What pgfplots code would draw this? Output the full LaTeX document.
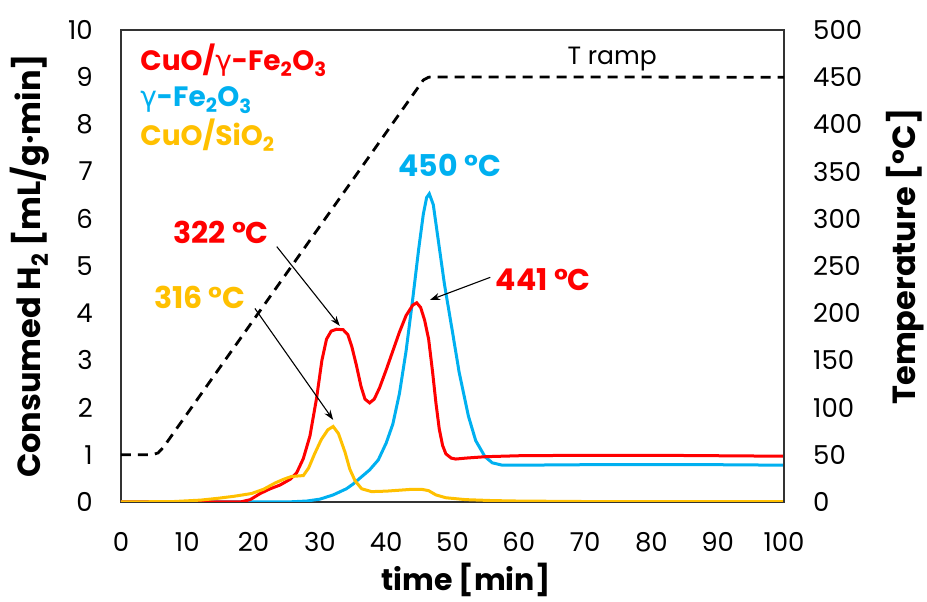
\documentclass[border=0pt]{standalone}
\usepackage{fontspec}
\setmainfont{Poppins}
\newfontfamily\gfont{DejaVu Sans}
\usepackage{pgfplots}
\pgfplotsset{compat=1.18}
\usetikzlibrary{arrows.meta}
\definecolor{cred}{RGB}{255,0,0}
\definecolor{cblue}{RGB}{0,176,240}
\definecolor{corange}{RGB}{255,192,0}
\newcommand{\g}{{\gfont\mdseries γ}}
\begin{document}
\begin{tikzpicture}
\pgfplotsset{
 base/.style={scale only axis, width=663pt, height=472pt, xmin=0, xmax=100,
   tick style={draw=none}, axis line style={line width=1.3pt, draw=black!80},
   /pgf/number format/assume math mode=true,
   tick label style={font=\fontsize{26}{30}\selectfont},
   label style={font=\fontsize{32}{36}\selectfont\bfseries},
 }
}
\begin{axis}[base, ymin=0, ymax=10, ytick={0,1,...,10}, xtick={0,10,...,100},
  yticklabel style={anchor=east, inner sep=0pt, xshift=-28pt},
  xticklabel style={anchor=north, inner sep=0pt, yshift=-30pt},
  xlabel={time [min]}, ylabel={Consumed H\textsubscript{2} [mL/g·min]},
  xlabel style={at={(axis description cs:0.52,-0.188)}, anchor=base, font=\fontsize{30}{34}\selectfont\bfseries},
  ylabel style={at={(axis description cs:-0.1373,0.5)}, anchor=center},
]
\addplot[cblue, line width=3pt] coordinates {
(0,0) (25,0) (28,0.02) (30,0.06) (32,0.15) (34,0.28) (35,0.38) (36,0.5) (37.5,0.68) (38.8,0.89) (40,1.25) (41,1.65) (42,2.3) (43,3.2) (44,4.3) (44.9,5.36) (45.6,6.1) (46.1,6.45) (46.5,6.53) (47.1,6.3) (47.9,5.5) (48.8,4.6) (50,3.6) (51,2.75) (52.4,1.82) (53.5,1.3) (54.9,0.96) (56,0.83) (57.5,0.78) (60,0.78) (70,0.79) (80,0.79) (90,0.79) (100,0.78)};
\addplot[cred, line width=3pt] coordinates {
(0,0) (18,0) (19.5,0.05) (21,0.18) (22.5,0.28) (24,0.36) (25.5,0.48) (26.5,0.62) (27.5,0.92) (28.5,1.4) (29.5,2.2) (30.3,3.0) (31,3.45) (31.7,3.62) (32.5,3.66) (33.5,3.65) (34.2,3.55) (34.8,3.3) (35.5,2.9) (36.2,2.45) (36.8,2.18) (37.5,2.1) (38.2,2.18) (39,2.42) (40,2.8) (41,3.2) (42,3.6) (43,3.95) (44,4.17) (44.6,4.22) (45.2,4.12) (45.8,3.85) (46.4,3.45) (47,2.75) (47.5,2.1) (48,1.55) (48.5,1.2) (49,1.02) (49.8,0.93) (50.5,0.91) (52,0.93) (55,0.96) (60,0.98) (70,0.99) (80,0.99) (90,0.98) (100,0.97)};
\addplot[corange, line width=3pt] coordinates {
(0,0) (8,0.01) (12,0.04) (14.7,0.08) (17,0.12) (19.7,0.18) (21.5,0.27) (23.2,0.4) (24.5,0.48) (25.7,0.54) (27.5,0.56) (28.3,0.72) (29.2,1.02) (30.2,1.32) (31.2,1.53) (32,1.6) (32.8,1.45) (33.8,1.05) (34.5,0.7) (35.3,0.45) (36.3,0.28) (37.8,0.22) (40,0.23) (42,0.25) (44,0.27) (45.3,0.27) (46.4,0.24) (47.5,0.15) (49,0.09) (52,0.05) (56,0.03) (60,0.02) (70,0.01) (100,0.01)};
\node[anchor=base west, font=\fontsize{28}{32}\selectfont\bfseries, text=cred, inner sep=0pt] at (axis cs:2.9,9.15) {CuO/\g-Fe\textsubscript{2}O\textsubscript{3}};
\node[anchor=base west, font=\fontsize{28}{32}\selectfont\bfseries, text=cblue, inner sep=0pt] at (axis cs:2.9,8.37) {\g-Fe\textsubscript{2}O\textsubscript{3}};
\node[anchor=base west, font=\fontsize{28}{32}\selectfont\bfseries, text=corange, inner sep=0pt] at (axis cs:2.9,7.56) {CuO/SiO\textsubscript{2}};
\node[anchor=base, font=\fontsize{30}{34}\selectfont\bfseries, text=cred, inner sep=0pt] at (axis cs:15.1,5.48) {322 °C};
\node[anchor=base, font=\fontsize{30}{34}\selectfont\bfseries, text=corange, inner sep=0pt] at (axis cs:11.9,4.11) {316 °C};
\node[anchor=base, font=\fontsize{30}{34}\selectfont\bfseries, text=cblue, inner sep=0pt] at (axis cs:49.6,6.89) {450 °C};
\node[anchor=base, font=\fontsize{30}{34}\selectfont\bfseries, text=cred, inner sep=0pt] at (axis cs:63.7,4.49) {441 °C};
\node[anchor=base, font=\fontsize{25}{28}\selectfont, text=black, inner sep=0pt] at (axis cs:74.1,9.27) {T ramp};
\draw[-{Stealth[length=10pt,width=7pt]}, line width=1.1pt] (axis cs:23.5,5.41) -- (axis cs:33.0,3.73);
\draw[-{Stealth[length=10pt,width=7pt]}, line width=1.1pt] (axis cs:20.2,4.10) -- (axis cs:32.0,1.74);
\draw[-{Stealth[length=10pt,width=7pt]}, line width=1.1pt] (axis cs:55.7,4.76) -- (axis cs:46.6,4.28);
\end{axis}
\begin{axis}[base, ymin=0, ymax=500, ytick={0,50,...,500}, axis y line*=right, axis x line=none,
  yticklabel style={anchor=west, inner sep=0pt, xshift=29pt},
  ylabel={Temperature [°C]},
  ylabel style={at={(axis description cs:1.1825,0.52)}, anchor=center},
]
\addplot[black, line width=2.8pt, dash pattern=on 10pt off 7pt] coordinates {
(0,50) (4.7,50) (5.6,52) (6.4,58) (45.6,447) (46.4,450) (47,450.3) (100,450)};
\end{axis}
\pgfresetboundingbox
\path[use as bounding box] (-121pt,-100pt) rectangle (806pt,502pt);
\end{tikzpicture}
\end{document}
